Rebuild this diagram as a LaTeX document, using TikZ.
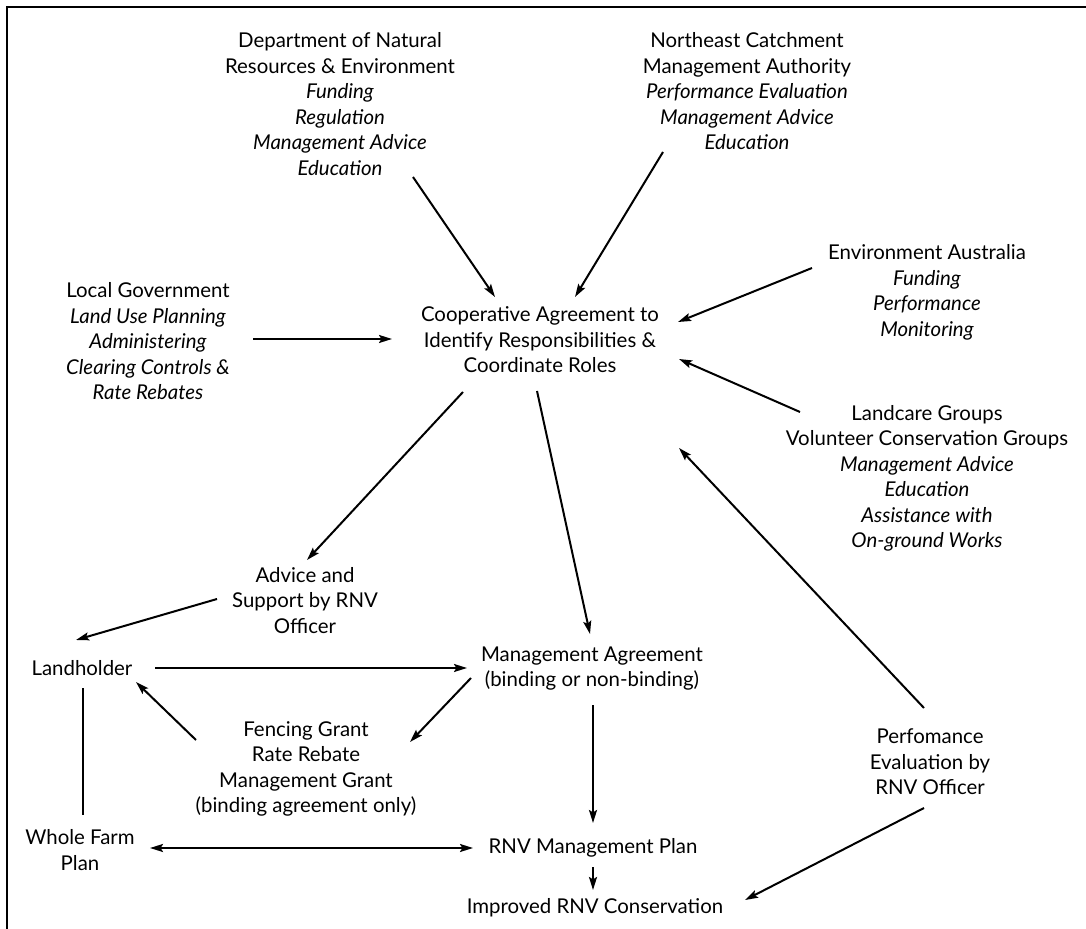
\documentclass[tikz,border=0pt]{standalone}
\usepackage{fontspec}
\setmainfont{Lato}
\usetikzlibrary{arrows.meta}
\begin{document}
\begin{tikzpicture}[x=0.5pt,y=-0.5pt,
  lbl/.style={align=center,inner sep=0pt,font=\fontsize{10.2pt}{12.75pt}\selectfont},
  conn/.style={line width=1pt},
  arr/.style={conn,-{Stealth[length=6.5pt,width=4pt,inset=1.2pt]}},
  dblarr/.style={conn,{Stealth[length=6.5pt,width=4pt,inset=1.2pt]}-{Stealth[length=6.5pt,width=4pt,inset=1.2pt]}},
  frameline/.style={line width=1pt}]
\useasboundingbox (0,0) rectangle (1086,929);
\draw[frameline] (1086,7) -- (7,7) -- (7,929);

\node[lbl] (dept) at (340,104) {Department of Natural\\Resources \& Environment\\\textit{Funding}\\\textit{Regulation}\\\textit{Management Advice}\\\textit{Education}};
\node[lbl] (ne) at (747,91.5) {Northeast Catchment\\Management Authority\\\textit{Performance Evaluation}\\\textit{Management Advice}\\\textit{Education}};
\node[lbl] (lg) at (148,341.5) {Local Government\\\textit{Land Use Planning}\\\textit{Administering}\\\textit{Clearing Controls \&}\\\textit{Rate Rebates}};
\node[lbl] (coop) at (540,340) {Cooperative Agreement to\\Identify Responsibilities \&\\Coordinate Roles};
\node[lbl] (ea) at (927,292.5) {Environment Australia\\\textit{Funding}\\\textit{Performance}\\\textit{Monitoring}};
\node[lbl] (lc) at (927,478.5) {Landcare Groups\\Volunteer Conservation Groups\\\textit{Management Advice}\\\textit{Education}\\\textit{Assistance with}\\\textit{On-ground Works}};
\node[lbl] (adv) at (305,600.5) {Advice and\\Support by RNV\\Officer};
\node[lbl] (lh) at (82,668) {Landholder};
\node[lbl] (ma) at (592,668.5) {Management Agreement\\(binding or non-binding)};
\node[lbl] (fg) at (306,769) {Fencing Grant\\Rate Rebate\\Management Grant\\(binding agreement only)};
\node[lbl] (pe) at (930,762) {Perfomance\\Evaluation by\\RNV Officer};
\node[lbl] (wf) at (80,850) {Whole Farm\\Plan};
\node[lbl] (rp) at (593,848) {RNV Management Plan};
\node[lbl] (imp) at (595,908) {Improved RNV Conservation};

\draw[arr] ([shift={(73,73)}]dept.center) -- ([shift={(-45,-43)}]coop.center);
\draw[arr] ([shift={(-84,60.5)}]ne.center) -- ([shift={(35,-43)}]coop.center);
\draw[arr] ([shift={(105,-2.5)}]lg.center) -- ([shift={(-148,-1)}]coop.center);
\draw[arr] ([shift={(-115,-24.5)}]ea.center) -- ([shift={(138,-18)}]coop.center);
\draw[arr] ([shift={(-127,-66.5)}]lc.center) -- ([shift={(139,19)}]coop.center);
\draw[arr] ([shift={(-6,-54)}]pe.center) -- ([shift={(139,108)}]coop.center);
\draw[arr] ([shift={(-77,52)}]coop.center) -- ([shift={(2,-40.5)}]adv.center);
\draw[arr] ([shift={(-3,51)}]coop.center) -- ([shift={(-2,-34.5)}]ma.center);
\draw[arr] ([shift={(-88,-1.5)}]adv.center) -- ([shift={(-6,-28)}]lh.center);
\draw[arr] ([shift={(73,0)}]lh.center) -- ([shift={(-125,-0.5)}]ma.center);
\draw[arr] ([shift={(-110,-29)}]fg.center) -- ([shift={(54,14)}]lh.center);
\draw[arr] ([shift={(-121,9.5)}]ma.center) -- ([shift={(104,-27)}]fg.center);
\draw[conn] ([shift={(1,20)}]lh.center) -- ([shift={(3,-35)}]wf.center);
\draw[arr] ([shift={(1,36.5)}]ma.center) -- ([shift={(0,-25)}]rp.center);
\draw[dblarr] ([shift={(70,-2)}]wf.center) -- ([shift={(-120,0)}]rp.center);
\draw[arr] ([shift={(0,19)}]rp.center) -- ([shift={(-2,-18)}]imp.center);
\draw[arr] ([shift={(-6,46)}]pe.center) -- ([shift={(150,-8)}]imp.center);
\end{tikzpicture}
\end{document}
